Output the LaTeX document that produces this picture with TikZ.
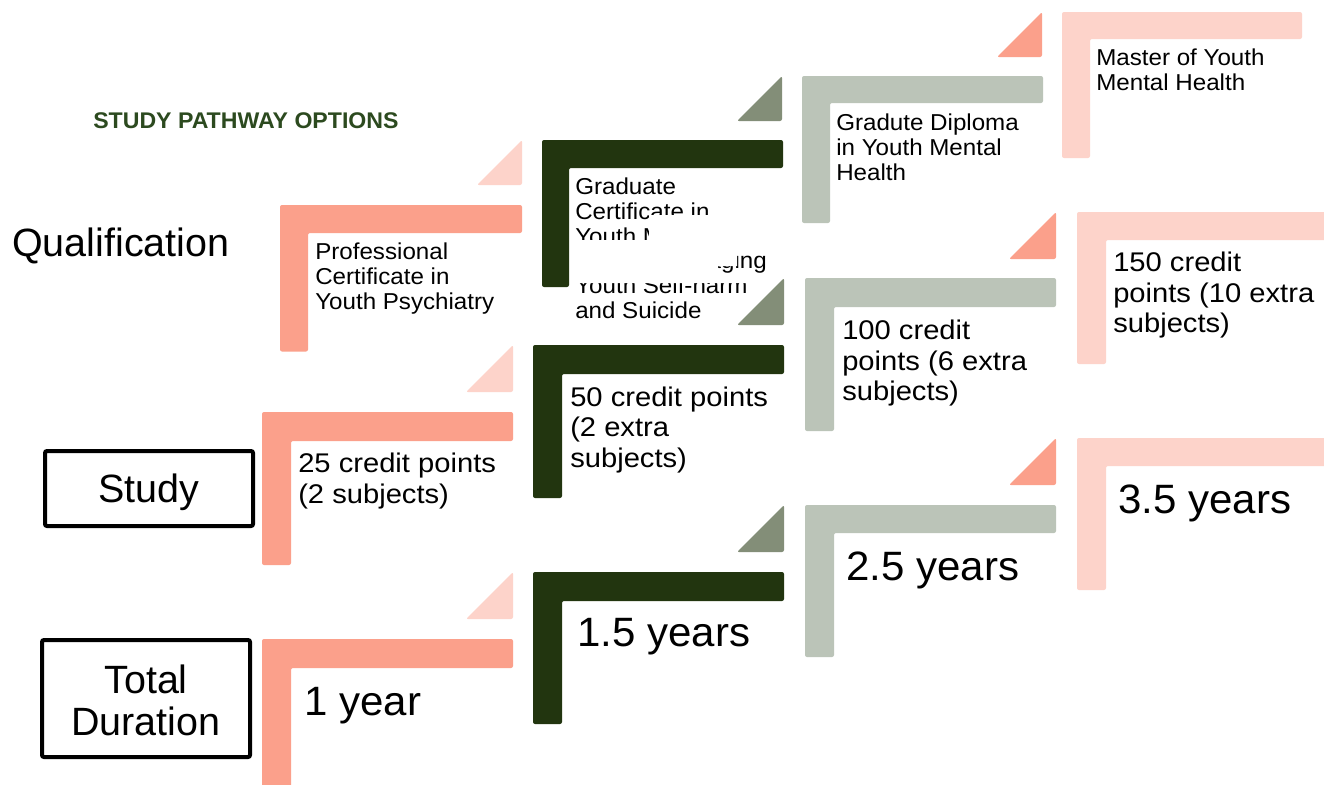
\documentclass[tikz,border=0pt]{standalone}
\usepackage{fontspec}
\setmainfont{Liberation Sans}
\newfontfamily\qfont[FakeStretch=1.05]{Liberation Sans}
\newfontfamily\sfontw[FakeStretch=1.08]{Liberation Sans}
\newfontfamily\dfont[FakeStretch=1.025]{Liberation Sans}
\newfontfamily\tfont[FakeStretch=1.02]{Liberation Sans}
\definecolor{salmon}{HTML}{FBA08B}
\definecolor{lightpink}{HTML}{FDD3CA}
\definecolor{darkgreen}{HTML}{22350F}
\definecolor{greyc}{HTML}{BBC4B8}
\definecolor{greygreen}{HTML}{838E78}
\definecolor{titlegreen}{HTML}{2C4A1F}
% L-shaped bracket: colour, x, y (top left), width, height, bar thickness, stem width
\newcommand{\Lbracket}[7]{%
  \fill[#1, rounded corners=1.5pt] (#2,#3) -- ++(#4,0) -- ++(0,#6) -- ++({#7-#4},0) -- ++(0,{#5-#6}) -- ++(-#7,0) -- cycle;}
% right-angle triangle: colour, right x, top y, size
\newcommand{\Tri}[4]{%
  \fill[#1, rounded corners=1.5pt] (#2,#3) -- ++(0,#4) -- ++(-#4,0) -- cycle;}
\newcommand{\lowerby}[2]{\raisebox{-#1}[\height][\depth]{#2}}
\tikzset{
  qtext/.style={anchor=north west, inner sep=0pt, align=left, text=black, font=\qfont\fontsize{17.25pt}{18.5pt}\selectfont},
  stext/.style={anchor=north west, inner sep=0pt, align=left, text=black, font=\sfontw\fontsize{20.25pt}{22.9pt}\selectfont},
  dtext/.style={anchor=north west, inner sep=0pt, text=black, font=\dfont\fontsize{30.75pt}{36pt}\selectfont},
  lefttext/.style={text=black, font=\fontsize{29.6pt}{31.5pt}\selectfont},
  rowbox/.style={draw=black, line width=3pt, rounded corners=1.5pt, minimum width=156pt, inner sep=0pt, align=center, lefttext},
}
\begin{document}
\begin{tikzpicture}[x=0.75pt,y=-0.75pt]
\useasboundingbox (0,0) rectangle (1324,785);
\clip (0,0) rectangle (1324,785);
\fill[white] (0,0) rectangle (1324,785);

% ---------- title and row labels ----------
\node[anchor=north west, inner sep=0pt, text=titlegreen, font=\tfont\fontsize{17pt}{20pt}\selectfont\bfseries] (title) at (93,112) {STUDY PATHWAY OPTIONS};
\node[anchor=north west, inner sep=0pt, lefttext] (qual) at (12,228) {Qualification};
\node[rowbox, minimum height=56.25pt] (study) at (149,488.5) {\lowerby{3pt}{Study}};
\node[rowbox, minimum height=87.75pt] (dur) at (146,698.5) {\lowerby{1.6pt}{Total}\\\lowerby{1.6pt}{Duration}};

% ---------- Qualification row ----------
\Lbracket{salmon}{280}{205}{242}{146.5}{28}{28}
\Tri{lightpink}{522}{140}{45}
\Lbracket{darkgreen}{542}{140}{241}{147}{28}{27}
\Tri{greygreen}{782}{76}{45}
\Lbracket{greyc}{802}{76}{241}{147}{27}{28}
\Tri{salmon}{1042}{12}{45}
\Lbracket{lightpink}{1062}{12}{240}{146}{27}{28}

\node[qtext] (q1) at (315,243) {Professional\\Certificate in\\Youth Psychiatry};
\node[qtext] (q2) at (575,178) {Graduate\\Certificate in\\Youth Mental\\Health: Managing\\Youth Self-harm\\and Suicide};
\fill[white] (649,215) -- (800,215) -- (800,255) -- (737,255) -- (737,266) -- (718,266) -- (718,275) -- (750,275) -- (750,283) -- (570,283) -- (570,240) -- (649,240) -- cycle;
\node[qtext] (q3) at (836,114) {Gradute Diploma\\in Youth Mental\\Health};
\node[qtext] (q4) at (1096,49) {Master of Youth\\Mental Health};

% ---------- Study row ----------
\Lbracket{salmon}{262}{412}{251}{153}{29}{29}
\Tri{lightpink}{513}{345}{47}
\Lbracket{darkgreen}{533}{345}{251}{153}{29}{29}
\Tri{greygreen}{784}{278}{47}
\Lbracket{greyc}{805}{278}{251}{153}{29}{29}
\Tri{salmon}{1056}{212}{47}
\Lbracket{lightpink}{1077}{212}{260}{152}{28}{29}

\node[stext] (s1) at (298,453) {25 credit points\\(2 subjects)};
\node[stext] (s2) at (570,386.5) {50 credit points\\(2 extra\\subjects)};
\node[stext] (s3) at (842,320) {100 credit\\points (6 extra\\subjects)};
\node[stext] (s4) at (1113,252) {150 credit\\points (10 extra\\subjects)};

% ---------- Duration row ----------
\Lbracket{salmon}{262}{639}{251}{160}{29}{29}
\Tri{lightpink}{513}{572}{47}
\Lbracket{darkgreen}{533}{572}{251}{152}{29}{29}
\Tri{greygreen}{784}{505}{47}
\Lbracket{greyc}{805}{505}{251}{152}{28}{29}
\Tri{salmon}{1056}{438}{47}
\Lbracket{lightpink}{1077}{438}{260}{152}{28}{29}

\node[dtext] (d1) at (304,687) {1 year};
\node[dtext] (d2) at (577,618) {1.5 years};
\node[dtext] (d3) at (846,552) {2.5 years};
\node[dtext] (d4) at (1118,485) {3.5 years};
\end{tikzpicture}
\end{document}
